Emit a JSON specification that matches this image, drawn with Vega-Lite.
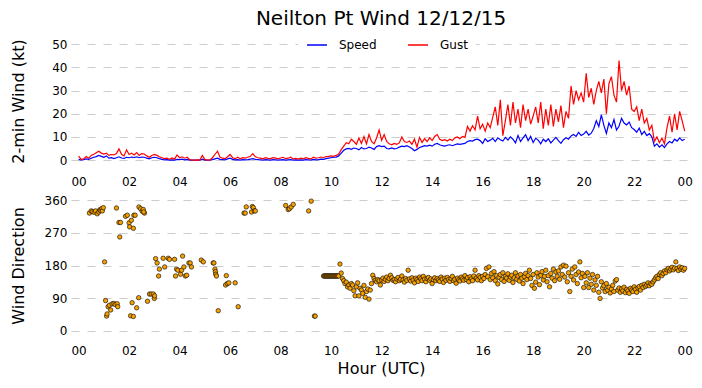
{
"$schema": "https://vega.github.io/schema/vega-lite/v6.json",
"background": "white",
"padding": {"left": 9, "top": 9, "right": 6, "bottom": 5},
"spacing": 7,
"config": {
  "font": "DejaVu Sans",
  "view": {"stroke": null},
  "axis": {"domain": false, "ticks": false, "labelFont": "DejaVu Sans", "labelFontSize": 12, "labelColor": "black", "titleFont": "DejaVu Sans", "titleFontSize": 16, "titleFontWeight": "normal", "titleColor": "black", "gridColor": "#cccccc", "gridDash": [8, 8], "gridWidth": 1.2}
},
"datasets": {
"wind": [
{"h":0.0,"s":0.3,"g":1.7},{"h":0.1,"s":0,"g":0.3},{"h":0.2,"s":0.2,"g":0.5},{"h":0.3,"s":0.5,"g":1.5},{"h":0.4,"s":0.3,"g":0.8},{"h":0.5,"s":0.8,"g":2.0},{"h":0.6,"s":1.2,"g":2.5},{"h":0.7,"s":1.5,"g":3.2},{"h":0.8,"s":2.0,"g":3.8},{"h":0.9,"s":1.6,"g":3.0},
{"h":1.0,"s":1.2,"g":2.6},{"h":1.1,"s":1.8,"g":3.0},{"h":1.2,"s":0.8,"g":2.0},{"h":1.3,"s":1.0,"g":2.4},{"h":1.4,"s":0.6,"g":2.2},{"h":1.5,"s":1.0,"g":2.8},{"h":1.6,"s":1.4,"g":4.8},{"h":1.7,"s":0.9,"g":2.5},{"h":1.8,"s":0.7,"g":1.8},{"h":1.9,"s":1.2,"g":4.4},
{"h":2.0,"s":1.0,"g":2.4},{"h":2.1,"s":1.3,"g":3.0},{"h":2.2,"s":1.1,"g":2.2},{"h":2.3,"s":1.4,"g":3.2},{"h":2.4,"s":1.0,"g":2.0},{"h":2.5,"s":1.3,"g":2.8},{"h":2.6,"s":1.2,"g":2.6},{"h":2.7,"s":0.8,"g":1.8},{"h":2.8,"s":0.5,"g":1.2},{"h":2.9,"s":1.0,"g":2.0},
{"h":3.0,"s":1.2,"g":2.4},{"h":3.1,"s":1.0,"g":2.0},{"h":3.2,"s":0.6,"g":1.4},{"h":3.3,"s":0.3,"g":1.0},{"h":3.4,"s":0.1,"g":0.6},{"h":3.5,"s":0.2,"g":0.8},{"h":3.6,"s":0,"g":0.3},{"h":3.7,"s":0.1,"g":0.9},{"h":3.8,"s":0,"g":0.4},{"h":3.9,"s":0.3,"g":2.2},
{"h":4.0,"s":0.2,"g":1.0},{"h":4.1,"s":0.4,"g":1.4},{"h":4.2,"s":0.1,"g":0.8},{"h":4.3,"s":0.3,"g":1.2},{"h":4.4,"s":0,"g":0.2},{"h":4.5,"s":0,"g":0},{"h":4.6,"s":0,"g":0},{"h":4.7,"s":0,"g":0.1},{"h":4.8,"s":0,"g":0},{"h":4.9,"s":0.4,"g":2.0},
{"h":5.0,"s":0,"g":0.3},{"h":5.1,"s":0,"g":0},{"h":5.2,"s":0,"g":0},{"h":5.3,"s":0.2,"g":1.0},{"h":5.4,"s":0.5,"g":2.4},{"h":5.5,"s":0.8,"g":3.8},{"h":5.6,"s":0.3,"g":1.2},{"h":5.7,"s":0.2,"g":0.8},{"h":5.8,"s":0.1,"g":0.6},{"h":5.9,"s":0.5,"g":1.4},
{"h":6.0,"s":0.8,"g":2.4},{"h":6.1,"s":0.3,"g":1.0},{"h":6.2,"s":0.1,"g":0.6},{"h":6.3,"s":0.2,"g":1.2},{"h":6.4,"s":0,"g":0.5},{"h":6.5,"s":0.2,"g":1.0},{"h":6.6,"s":0.1,"g":0.8},{"h":6.7,"s":0.2,"g":1.2},{"h":6.8,"s":0.4,"g":1.6},{"h":6.9,"s":0.6,"g":2.8},
{"h":7.0,"s":0.3,"g":1.4},{"h":7.1,"s":0.2,"g":1.0},{"h":7.2,"s":0.1,"g":0.8},{"h":7.3,"s":0,"g":0.5},{"h":7.4,"s":0.2,"g":1.0},{"h":7.5,"s":0.1,"g":0.7},{"h":7.6,"s":0,"g":0.6},{"h":7.7,"s":0.2,"g":1.0},{"h":7.8,"s":0.1,"g":0.8},{"h":7.9,"s":0,"g":0.5},
{"h":8.0,"s":0.1,"g":0.9},{"h":8.1,"s":0.2,"g":1.2},{"h":8.2,"s":0,"g":0.6},{"h":8.3,"s":0.1,"g":0.8},{"h":8.4,"s":0.2,"g":1.2},{"h":8.5,"s":0,"g":0.5},{"h":8.6,"s":0.1,"g":0.7},{"h":8.7,"s":0,"g":0.4},{"h":8.8,"s":0.1,"g":0.8},{"h":8.9,"s":0,"g":0.5},
{"h":9.0,"s":0.2,"g":1.0},{"h":9.1,"s":0.1,"g":0.7},{"h":9.2,"s":0,"g":0.5},{"h":9.3,"s":0.3,"g":1.2},{"h":9.4,"s":0.1,"g":0.8},{"h":9.5,"s":0.2,"g":1.0},{"h":9.6,"s":0.4,"g":1.3},{"h":9.7,"s":0.3,"g":1.0},{"h":9.8,"s":0.6,"g":1.5},{"h":9.9,"s":0.8,"g":1.6},
{"h":10.0,"s":1.0,"g":1.8},{"h":10.1,"s":1.2,"g":1.6},{"h":10.2,"s":1.3,"g":2.0},{"h":10.3,"s":1.8,"g":2.6},{"h":10.4,"s":3.0,"g":4.5},{"h":10.5,"s":4.2,"g":6.0},{"h":10.6,"s":4.8,"g":7.5},{"h":10.7,"s":5.0,"g":7.0},{"h":10.8,"s":4.6,"g":9.0},{"h":10.9,"s":5.2,"g":8.0},
{"h":11.0,"s":5.0,"g":6.8},{"h":11.1,"s":4.4,"g":9.5},{"h":11.2,"s":5.4,"g":7.2},{"h":11.3,"s":4.8,"g":10.2},{"h":11.4,"s":5.0,"g":7.0},{"h":11.5,"s":5.6,"g":11.0},{"h":11.6,"s":5.2,"g":8.0},{"h":11.7,"s":4.6,"g":7.0},{"h":11.8,"s":5.8,"g":9.5},{"h":11.9,"s":6.2,"g":13.0},
{"h":12.0,"s":5.8,"g":8.5},{"h":12.1,"s":6.0,"g":11.0},{"h":12.2,"s":5.0,"g":8.0},{"h":12.3,"s":4.8,"g":7.0},{"h":12.4,"s":5.2,"g":6.6},{"h":12.5,"s":4.8,"g":7.2},{"h":12.6,"s":5.0,"g":6.8},{"h":12.7,"s":5.6,"g":7.4},{"h":12.8,"s":6.0,"g":10.0},{"h":12.9,"s":5.8,"g":8.0},
{"h":13.0,"s":6.2,"g":7.6},{"h":13.1,"s":5.6,"g":8.2},{"h":13.2,"s":5.0,"g":6.8},{"h":13.3,"s":4.0,"g":9.0},{"h":13.4,"s":4.6,"g":5.6},{"h":13.5,"s":5.4,"g":9.8},{"h":13.6,"s":5.8,"g":7.6},{"h":13.7,"s":6.2,"g":9.2},{"h":13.8,"s":6.0,"g":8.0},{"h":13.9,"s":6.4,"g":9.6},
{"h":14.0,"s":6.0,"g":8.4},{"h":14.1,"s":6.8,"g":10.2},{"h":14.2,"s":7.2,"g":11.0},{"h":14.3,"s":6.6,"g":9.0},{"h":14.4,"s":6.2,"g":8.4},{"h":14.5,"s":6.0,"g":8.8},{"h":14.6,"s":6.4,"g":8.2},{"h":14.7,"s":6.6,"g":9.0},{"h":14.8,"s":6.2,"g":8.4},{"h":14.9,"s":6.6,"g":9.6},
{"h":15.0,"s":7.0,"g":10.0},{"h":15.1,"s":6.8,"g":9.2},{"h":15.2,"s":7.0,"g":10.2},{"h":15.3,"s":7.2,"g":9.8},{"h":15.4,"s":8.0,"g":14.5},{"h":15.5,"s":8.4,"g":12.5},{"h":15.6,"s":8.2,"g":14.8},{"h":15.7,"s":8.8,"g":13.0},{"h":15.8,"s":9.0,"g":19.0},{"h":15.9,"s":8.4,"g":13.5},
{"h":16.0,"s":7.2,"g":15.5},{"h":16.1,"s":9.2,"g":12.5},{"h":16.2,"s":8.0,"g":16.0},{"h":16.3,"s":8.6,"g":14.0},{"h":16.4,"s":9.4,"g":18.5},{"h":16.5,"s":8.0,"g":23.0},{"h":16.6,"s":9.6,"g":15.0},{"h":16.7,"s":8.8,"g":26.0},{"h":16.8,"s":8.2,"g":10.5},{"h":16.9,"s":9.8,"g":17.0},
{"h":17.0,"s":8.6,"g":24.0},{"h":17.1,"s":10.0,"g":15.0},{"h":17.2,"s":9.0,"g":25.0},{"h":17.3,"s":7.4,"g":16.0},{"h":17.4,"s":10.6,"g":22.0},{"h":17.5,"s":8.0,"g":14.0},{"h":17.6,"s":9.6,"g":24.0},{"h":17.7,"s":11.0,"g":17.0},{"h":17.8,"s":8.4,"g":22.0},{"h":17.9,"s":10.2,"g":15.5},
{"h":18.0,"s":7.6,"g":19.0},{"h":18.1,"s":9.4,"g":23.0},{"h":18.2,"s":8.6,"g":16.0},{"h":18.3,"s":7.0,"g":25.0},{"h":18.4,"s":9.0,"g":13.5},{"h":18.5,"s":8.0,"g":22.0},{"h":18.6,"s":9.2,"g":15.0},{"h":18.7,"s":7.4,"g":24.0},{"h":18.8,"s":8.6,"g":14.5},{"h":18.9,"s":9.8,"g":22.0},
{"h":19.0,"s":8.4,"g":16.5},{"h":19.1,"s":7.2,"g":23.5},{"h":19.2,"s":8.8,"g":14.0},{"h":19.3,"s":9.6,"g":21.0},{"h":19.4,"s":9.0,"g":18.0},{"h":19.5,"s":10.4,"g":32.0},{"h":19.6,"s":11.0,"g":24.0},{"h":19.7,"s":10.2,"g":30.0},{"h":19.8,"s":12.0,"g":26.0},{"h":19.9,"s":10.6,"g":29.0},
{"h":20.0,"s":11.2,"g":25.0},{"h":20.1,"s":12.4,"g":37.5},{"h":20.2,"s":10.8,"g":27.0},{"h":20.3,"s":11.6,"g":31.0},{"h":20.4,"s":13.6,"g":24.0},{"h":20.5,"s":17.0,"g":30.0},{"h":20.6,"s":14.5,"g":34.0},{"h":20.7,"s":19.5,"g":29.0},{"h":20.8,"s":15.0,"g":35.0},{"h":20.9,"s":11.5,"g":20.0},
{"h":21.0,"s":16.0,"g":33.0},{"h":21.1,"s":14.0,"g":36.0},{"h":21.2,"s":17.5,"g":28.0},{"h":21.3,"s":13.0,"g":25.0},{"h":21.4,"s":14.6,"g":43.0},{"h":21.5,"s":18.0,"g":30.0},{"h":21.6,"s":16.0,"g":34.0},{"h":21.7,"s":15.2,"g":28.0},{"h":21.8,"s":16.4,"g":32.0},{"h":21.9,"s":14.0,"g":22.0},
{"h":22.0,"s":13.2,"g":21.0},{"h":22.1,"s":12.0,"g":23.0},{"h":22.2,"s":13.8,"g":17.0},{"h":22.3,"s":11.0,"g":22.0},{"h":22.4,"s":12.4,"g":16.0},{"h":22.5,"s":10.6,"g":18.0},{"h":22.6,"s":11.4,"g":13.0},{"h":22.7,"s":10.0,"g":15.0},{"h":22.8,"s":6.0,"g":8.0},{"h":22.9,"s":7.0,"g":10.0},
{"h":23.0,"s":5.6,"g":7.5},{"h":23.1,"s":6.6,"g":9.5},{"h":23.2,"s":5.4,"g":7.0},{"h":23.3,"s":7.0,"g":14.0},{"h":23.4,"s":8.0,"g":19.0},{"h":23.5,"s":7.4,"g":12.0},{"h":23.6,"s":9.0,"g":20.0},{"h":23.7,"s":8.2,"g":13.0},{"h":23.8,"s":9.6,"g":21.0},{"h":23.9,"s":8.4,"g":17.0},
{"h":24.0,"s":9.0,"g":12.5}
],
"dir": [
{"h":0.43,"d":325},{"h":0.5,"d":331},{"h":0.55,"d":329},{"h":0.62,"d":327},{"h":0.67,"d":331},{"h":0.74,"d":323},{"h":0.8,"d":328},{"h":0.84,"d":334},{"h":0.87,"d":332},{"h":0.91,"d":337},{"h":0.94,"d":331},{"h":0.98,"d":340},
{"h":1.03,"d":190},{"h":1.07,"d":83},{"h":1.11,"d":40},{"h":1.13,"d":46},{"h":1.17,"d":66},{"h":1.22,"d":70},{"h":1.27,"d":57},{"h":1.33,"d":74},{"h":1.4,"d":75},{"h":1.45,"d":72},{"h":1.53,"d":74},{"h":1.55,"d":66},{"h":1.5,"d":339},{"h":1.6,"d":299},{"h":1.66,"d":299},{"h":1.63,"d":259},
{"h":1.86,"d":316},{"h":1.93,"d":319},{"h":2.0,"d":298},{"h":2.02,"d":287},{"h":2.09,"d":305},{"h":2.17,"d":283},{"h":2.19,"d":319},{"h":2.24,"d":319},{"h":2.06,"d":41},{"h":2.17,"d":39},{"h":2.12,"d":77},{"h":2.3,"d":63},{"h":2.38,"d":91},
{"h":2.39,"d":342},{"h":2.46,"d":337},{"h":2.52,"d":330},{"h":2.56,"d":335},{"h":2.61,"d":325},{"h":2.58,"d":328},{"h":2.73,"d":81},{"h":2.81,"d":101},{"h":2.88,"d":101},{"h":2.96,"d":101},{"h":3.0,"d":89},{"h":3.01,"d":96},
{"h":3.05,"d":199},{"h":3.11,"d":187},{"h":3.17,"d":151},{"h":3.2,"d":170},{"h":3.35,"d":200},{"h":3.41,"d":176},{"h":3.55,"d":200},{"h":3.6,"d":197},{"h":3.8,"d":197},{"h":3.84,"d":151},{"h":3.88,"d":170},{"h":3.93,"d":167},{"h":4.04,"d":156},{"h":4.08,"d":167},{"h":4.12,"d":206},{"h":4.17,"d":176},{"h":4.23,"d":151},{"h":4.28,"d":153},{"h":4.37,"d":187},{"h":4.42,"d":187},{"h":4.47,"d":176},
{"h":4.86,"d":195},{"h":4.94,"d":190},{"h":5.33,"d":187},{"h":5.36,"d":187},{"h":5.4,"d":170},{"h":5.42,"d":163},{"h":5.43,"d":156},{"h":5.46,"d":151},{"h":5.53,"d":55},{"h":5.82,"d":126},{"h":5.85,"d":152},{"h":5.89,"d":130},{"h":5.95,"d":132},{"h":6.2,"d":132},{"h":6.32,"d":66},
{"h":6.55,"d":325},{"h":6.6,"d":325},{"h":6.64,"d":342},{"h":6.85,"d":328},{"h":6.88,"d":343},{"h":6.92,"d":340},{"h":6.96,"d":331},{"h":7.0,"d":331},
{"h":8.2,"d":346},{"h":8.3,"d":335},{"h":8.35,"d":337},{"h":8.42,"d":342},{"h":8.5,"d":349},{"h":9.11,"d":331},{"h":9.21,"d":358},{"h":9.34,"d":40},{"h":9.37,"d":40},
{"h":9.70,"d":151},{"h":9.73,"d":151},{"h":9.76,"d":151},{"h":9.79,"d":151},{"h":9.82,"d":151},{"h":9.85,"d":151},{"h":9.88,"d":151},{"h":9.91,"d":151},{"h":9.94,"d":151},{"h":9.97,"d":151},{"h":10.00,"d":151},{"h":10.03,"d":151},{"h":10.06,"d":151},{"h":10.09,"d":151},{"h":10.12,"d":151},{"h":10.15,"d":151},{"h":10.18,"d":151},{"h":10.21,"d":151},{"h":10.24,"d":151},{"h":10.27,"d":151},{"h":10.30,"d":151},
{"h":10.35,"d":184},{"h":10.40,"d":159},{"h":10.45,"d":144},{"h":10.50,"d":138},{"h":10.55,"d":130},{"h":10.60,"d":134},{"h":10.65,"d":121},{"h":10.70,"d":126},{"h":10.75,"d":117},{"h":10.80,"d":130},{"h":10.85,"d":126},{"h":10.90,"d":110},{"h":10.95,"d":96},
{"h":11.00,"d":121},{"h":11.05,"d":132},{"h":11.10,"d":96},{"h":11.15,"d":117},{"h":11.20,"d":112},{"h":11.25,"d":103},{"h":11.30,"d":125},{"h":11.35,"d":92},{"h":11.40,"d":108},{"h":11.45,"d":115},{"h":11.50,"d":87},{"h":11.55,"d":112},{"h":11.60,"d":130},{"h":11.65,"d":153},{"h":11.70,"d":144},{"h":11.75,"d":139},{"h":11.80,"d":135},{"h":11.85,"d":141},{"h":11.90,"d":138},{"h":11.95,"d":126},
{"h":12.00,"d":140},{"h":12.05,"d":145},{"h":12.10,"d":136},{"h":12.15,"d":142},{"h":12.20,"d":148},{"h":12.25,"d":138},{"h":12.30,"d":144},{"h":12.35,"d":153},{"h":12.40,"d":146},{"h":12.45,"d":139},{"h":12.50,"d":141},{"h":12.55,"d":135},{"h":12.60,"d":143},{"h":12.65,"d":147},{"h":12.70,"d":138},{"h":12.75,"d":142},{"h":12.80,"d":151},{"h":12.85,"d":140},{"h":12.90,"d":134},{"h":12.95,"d":144},
{"h":13.00,"d":139},{"h":13.05,"d":167},{"h":13.10,"d":143},{"h":13.15,"d":137},{"h":13.20,"d":146},{"h":13.25,"d":140},{"h":13.30,"d":132},{"h":13.35,"d":145},{"h":13.40,"d":141},{"h":13.45,"d":136},{"h":13.50,"d":148},{"h":13.55,"d":143},{"h":13.60,"d":138},{"h":13.65,"d":150},{"h":13.70,"d":142},{"h":13.75,"d":135},{"h":13.80,"d":144},{"h":13.85,"d":147},{"h":13.90,"d":139},{"h":13.95,"d":143},
{"h":14.00,"d":130},{"h":14.05,"d":141},{"h":14.10,"d":146},{"h":14.15,"d":138},{"h":14.20,"d":144},{"h":14.25,"d":140},{"h":14.30,"d":136},{"h":14.35,"d":148},{"h":14.40,"d":142},{"h":14.45,"d":133},{"h":14.50,"d":145},{"h":14.55,"d":139},{"h":14.60,"d":147},{"h":14.65,"d":141},{"h":14.70,"d":136},{"h":14.75,"d":144},{"h":14.80,"d":150},{"h":14.85,"d":138},{"h":14.90,"d":142},{"h":14.95,"d":131},
{"h":15.00,"d":145},{"h":15.05,"d":140},{"h":15.10,"d":137},{"h":15.15,"d":148},{"h":15.20,"d":143},{"h":15.25,"d":139},{"h":15.30,"d":152},{"h":15.35,"d":141},{"h":15.40,"d":146},{"h":15.45,"d":135},{"h":15.50,"d":149},{"h":15.55,"d":143},{"h":15.60,"d":138},{"h":15.65,"d":151},{"h":15.70,"d":167},{"h":15.75,"d":145},{"h":15.80,"d":140},{"h":15.85,"d":152},{"h":15.90,"d":147},{"h":15.95,"d":138},
{"h":16.00,"d":150},{"h":16.05,"d":144},{"h":16.10,"d":155},{"h":16.15,"d":172},{"h":16.20,"d":149},{"h":16.25,"d":176},{"h":16.30,"d":141},{"h":16.35,"d":158},{"h":16.40,"d":146},{"h":16.45,"d":163},{"h":16.50,"d":138},{"h":16.55,"d":152},{"h":16.60,"d":129},{"h":16.65,"d":147},{"h":16.70,"d":155},{"h":16.75,"d":141},{"h":16.80,"d":160},{"h":16.85,"d":136},{"h":16.90,"d":150},{"h":16.95,"d":145},
{"h":17.00,"d":157},{"h":17.05,"d":139},{"h":17.10,"d":148},{"h":17.15,"d":153},{"h":17.20,"d":133},{"h":17.25,"d":146},{"h":17.30,"d":160},{"h":17.35,"d":142},{"h":17.40,"d":151},{"h":17.45,"d":137},{"h":17.50,"d":155},{"h":17.55,"d":145},{"h":17.60,"d":130},{"h":17.65,"d":149},{"h":17.70,"d":158},{"h":17.75,"d":141},{"h":17.80,"d":152},{"h":17.85,"d":167},{"h":17.90,"d":144},{"h":17.95,"d":125},
{"h":18.00,"d":155},{"h":18.05,"d":117},{"h":18.10,"d":134},{"h":18.15,"d":160},{"h":18.20,"d":148},{"h":18.25,"d":127},{"h":18.30,"d":153},{"h":18.35,"d":163},{"h":18.40,"d":140},{"h":18.45,"d":150},{"h":18.50,"d":167},{"h":18.55,"d":135},{"h":18.60,"d":152},{"h":18.65,"d":121},{"h":18.70,"d":158},{"h":18.75,"d":145},{"h":18.80,"d":170},{"h":18.85,"d":138},{"h":18.90,"d":162},{"h":18.95,"d":150},
{"h":19.00,"d":165},{"h":19.05,"d":142},{"h":19.10,"d":176},{"h":19.15,"d":155},{"h":19.20,"d":181},{"h":19.25,"d":148},{"h":19.30,"d":178},{"h":19.35,"d":135},{"h":19.40,"d":160},{"h":19.45,"d":108},{"h":19.50,"d":150},{"h":19.55,"d":170},{"h":19.60,"d":140},{"h":19.65,"d":176},{"h":19.70,"d":155},{"h":19.75,"d":130},{"h":19.80,"d":162},{"h":19.85,"d":190},{"h":19.90,"d":146},{"h":19.95,"d":158},
{"h":20.00,"d":119},{"h":20.05,"d":150},{"h":20.10,"d":132},{"h":20.15,"d":160},{"h":20.20,"d":119},{"h":20.25,"d":145},{"h":20.30,"d":128},{"h":20.35,"d":155},{"h":20.40,"d":112},{"h":20.45,"d":140},{"h":20.50,"d":125},{"h":20.55,"d":150},{"h":20.60,"d":106},{"h":20.65,"d":89},{"h":20.70,"d":135},{"h":20.75,"d":118},{"h":20.80,"d":124},{"h":20.85,"d":108},{"h":20.90,"d":130},{"h":20.95,"d":112},
{"h":21.00,"d":120},{"h":21.05,"d":104},{"h":21.10,"d":115},{"h":21.15,"d":125},{"h":21.20,"d":108},{"h":21.25,"d":137},{"h":21.30,"d":141},{"h":21.35,"d":112},{"h":21.40,"d":118},{"h":21.45,"d":106},{"h":21.50,"d":115},{"h":21.55,"d":110},{"h":21.60,"d":120},{"h":21.65,"d":105},{"h":21.70,"d":114},{"h":21.75,"d":110},{"h":21.80,"d":103},{"h":21.85,"d":117},{"h":21.90,"d":112},{"h":21.95,"d":108},
{"h":22.00,"d":121},{"h":22.05,"d":114},{"h":22.10,"d":106},{"h":22.15,"d":118},{"h":22.20,"d":122},{"h":22.25,"d":112},{"h":22.30,"d":125},{"h":22.35,"d":119},{"h":22.40,"d":128},{"h":22.45,"d":122},{"h":22.50,"d":126},{"h":22.55,"d":132},{"h":22.60,"d":124},{"h":22.65,"d":130},{"h":22.70,"d":128},{"h":22.75,"d":135},{"h":22.80,"d":140},{"h":22.85,"d":146},{"h":22.90,"d":150},{"h":22.95,"d":144},
{"h":23.00,"d":155},{"h":23.05,"d":160},{"h":23.10,"d":152},{"h":23.15,"d":158},{"h":23.20,"d":165},{"h":23.25,"d":160},{"h":23.30,"d":168},{"h":23.35,"d":172},{"h":23.40,"d":165},{"h":23.45,"d":170},{"h":23.50,"d":175},{"h":23.55,"d":168},{"h":23.60,"d":173},{"h":23.65,"d":190},{"h":23.70,"d":172},{"h":23.75,"d":166},{"h":23.80,"d":176},{"h":23.85,"d":170},{"h":23.90,"d":174},{"h":23.95,"d":167},{"h":24.00,"d":172}
]
},
"vconcat": [
{
  "title": {"text": "Neilton Pt Wind 12/12/15", "font": "DejaVu Sans", "fontSize": 20, "fontWeight": "normal", "color": "black", "anchor": "middle", "frame": "group", "offset": 6},
  "width": 620,
  "height": 132,
  "data": {"name": "wind"},
  "encoding": {
    "x": {"field": "h", "type": "quantitative", "scale": {"domain": [-0.3, 24.25], "nice": false, "zero": false},
          "axis": {"values": [0,2,4,6,8,10,12,14,16,18,20,22,24], "labelExpr": "datum.value == 24 ? '00' : (datum.value < 10 ? '0' + datum.value : '' + datum.value)", "title": null, "grid": false, "labelPadding": 9}}
  },
  "layer": [
    {
      "mark": {"type": "line", "strokeWidth": 1.2},
      "encoding": {
        "y": {"field": "s", "type": "quantitative", "scale": {"domain": [-3, 54], "nice": false, "zero": false},
              "axis": {"values": [0,10,20,30,40,50], "title": "2-min Wind (kt)", "minExtent": 25, "maxExtent": 25, "titlePadding": 20, "labelPadding": 4}},
        "color": {"datum": "Speed", "type": "nominal", "scale": {"domain": ["Speed", "Gust"], "range": ["#0000ff", "#ff0000"]},
                  "legend": {"title": null, "orient": "none", "legendX": 227, "legendY": -9, "direction": "horizontal", "symbolType": "stroke", "symbolSize": 400, "symbolStrokeWidth": 1.5, "labelFont": "DejaVu Sans", "labelFontSize": 12, "labelColor": "black", "labelOffset": 11, "columnPadding": 28, "padding": 8, "fillColor": "white", "strokeColor": null}}
      }
    },
    {
      "mark": {"type": "line", "strokeWidth": 1.2},
      "encoding": {
        "y": {"field": "g", "type": "quantitative", "scale": {"domain": [-3, 54], "nice": false, "zero": false},
              "axis": {"values": [0,10,20,30,40,50], "title": "2-min Wind (kt)", "minExtent": 25, "maxExtent": 25, "titlePadding": 20, "labelPadding": 4}},
        "color": {"datum": "Gust", "type": "nominal"}
      }
    }
  ]
},
{
  "width": 620,
  "height": 141,
  "data": {"name": "dir"},
  "mark": {"type": "point", "shape": "circle", "filled": true, "size": 20, "fill": "#f5a000", "stroke": "#000000", "strokeWidth": 0.6, "opacity": 1},
  "encoding": {
    "x": {"field": "h", "type": "quantitative", "scale": {"domain": [-0.3, 24.25], "nice": false, "zero": false},
          "axis": {"values": [0,2,4,6,8,10,12,14,16,18,20,22,24], "labelExpr": "datum.value == 24 ? '00' : (datum.value < 10 ? '0' + datum.value : '' + datum.value)", "title": "Hour (UTC)", "grid": false, "labelPadding": 9, "titlePadding": 4}},
    "y": {"field": "d", "type": "quantitative", "scale": {"domain": [-15, 375], "nice": false, "zero": false},
          "axis": {"values": [0,90,180,270,360], "title": "Wind Direction", "minExtent": 25, "maxExtent": 25, "titlePadding": 20, "labelPadding": 4}}
  }
}
]
}
